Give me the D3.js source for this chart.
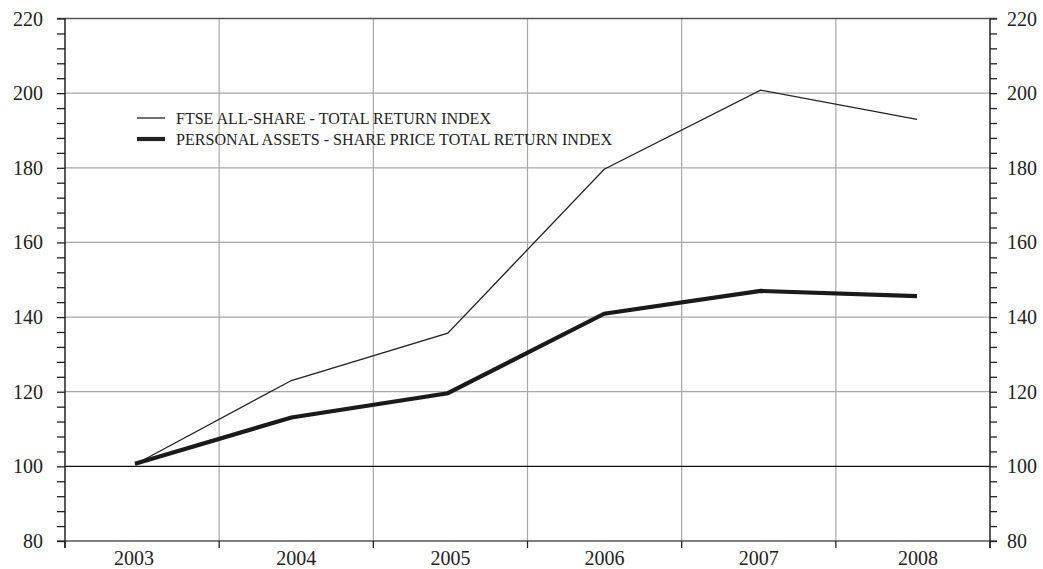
<!DOCTYPE html>
<html><head><meta charset="utf-8">
<script src="https://cdn.jsdelivr.net/npm/d3@7"></script>
<style>body{margin:0;background:#fff}svg{display:block}</style>
</head><body>
<svg id="c" width="1043" height="569"></svg>
<script>
const years = ["2003","2004","2005","2006","2007","2008"];
const ftse = [100.5, 123.0, 135.7, 179.6, 200.8, 193.0];
const pa = [100.7, 113.1, 119.6, 140.9, 147.0, 145.6];
const yTicks = [80,100,120,140,160,180,200,220];
const legendLabels = ["FTSE ALL-SHARE - TOTAL RETURN INDEX","PERSONAL ASSETS - SHARE PRICE TOTAL RETURN INDEX"];

const svg = d3.select("#c");
const L = 65, R = 990, T = 18.5, B = 541;
const y = d3.scaleLinear().domain([80,220]).range([B,T]);
const xb = d3.scaleBand().domain(years).range([L,R]);
const xp = d3.scalePoint().domain(years).range([135,917]);
const font = "'Liberation Serif','Times New Roman',serif";

// horizontal gridlines
svg.append("g").selectAll("line").data(yTicks.filter(v=>v!==100&&v!==80&&v!==220)).join("line")
  .attr("x1",L).attr("x2",R).attr("y1",d=>y(d)).attr("y2",d=>y(d))
  .attr("stroke","#a8a8a8").attr("stroke-width",1.2);
// vertical gridlines at band boundaries
svg.append("g").selectAll("line").data(years.slice(1)).join("line")
  .attr("x1",d=>xb(d)).attr("x2",d=>xb(d)).attr("y1",T).attr("y2",B)
  .attr("stroke","#a8a8a8").attr("stroke-width",1.2);
// top and bottom lines
svg.append("line").attr("x1",57).attr("x2",997).attr("y1",y(220)).attr("y2",y(220)).attr("stroke","#555").attr("stroke-width",1.5);
svg.append("line").attr("x1",57).attr("x2",997).attr("y1",y(80)).attr("y2",y(80)).attr("stroke","#555").attr("stroke-width",1.5);
// 100 baseline
svg.append("line").attr("x1",L).attr("x2",R).attr("y1",y(100)).attr("y2",y(100)).attr("stroke","#111").attr("stroke-width",1.2);

// left axis
const minor = d3.range(80,221,4);
const gl = svg.append("g").attr("transform",`translate(${L},0)`)
  .call(d3.axisLeft(y).tickValues(minor).tickSize(8).tickFormat(""));
gl.select(".domain").attr("d",`M0,${T}V${B+7}`).attr("stroke","#222").attr("stroke-width",1.5);
gl.selectAll(".tick line").attr("stroke","#222").attr("stroke-width",1.3);
const gr = svg.append("g").attr("transform",`translate(${R},0)`)
  .call(d3.axisRight(y).tickValues(minor).tickSize(7).tickFormat(""));
gr.select(".domain").attr("d",`M0,${T}V${B+7}`).attr("stroke","#222").attr("stroke-width",1.5);
gr.selectAll(".tick line").attr("stroke","#222").attr("stroke-width",1.3);

// y labels
svg.append("g").selectAll("text").data(yTicks).join("text")
  .attr("x",43).attr("y",d=>y(d)+7).attr("text-anchor","end")
  .attr("font-family",font).attr("font-size",20).attr("fill","#222").text(d=>d);
svg.append("g").selectAll("text").data(yTicks).join("text")
  .attr("x",1007).attr("y",d=>y(d)+7).attr("text-anchor","start")
  .attr("font-family",font).attr("font-size",20).attr("fill","#222").text(d=>d);

// x ticks (band boundaries)
const bounds = years.map(d=>xb(d)).concat([R]);
svg.append("g").selectAll("line").data(bounds).join("line")
  .attr("x1",d=>d).attr("x2",d=>d).attr("y1",B).attr("y2",B+7)
  .attr("stroke","#222").attr("stroke-width",1.3);
svg.append("g").selectAll("text").data(years).join("text")
  .attr("x",d=>xb(d)+xb.bandwidth()/2 - (d==="2003"?8:(d==="2008"?-5:0))).attr("y",565).attr("text-anchor","middle")
  .attr("font-family",font).attr("font-size",20).attr("fill","#222").text(d=>d);

// lines
const line = d3.line().x((d,i)=>xp(years[i])).y(d=>y(d));
svg.append("path").datum(ftse).attr("d",line).attr("fill","none").attr("stroke","#222").attr("stroke-width",1.3);
svg.append("path").datum(pa).attr("d",line).attr("fill","none").attr("stroke","#1a1a1a").attr("stroke-width",4.2);

// legend
const lg = svg.append("g");
const lw = [1.3,4.2];
const ly = [118,139];
const ltl = [315,436];
legendLabels.forEach((t,i)=>{
  lg.append("line").attr("x1",137).attr("x2",165).attr("y1",ly[i]).attr("y2",ly[i]).attr("stroke","#222").attr("stroke-width",lw[i]);
  lg.append("text").attr("x",176).attr("y",ly[i]+6).attr("font-family",font).attr("font-size",16)
    .attr("fill","#222").attr("textLength",ltl[i]).attr("lengthAdjust","spacingAndGlyphs").text(t);
});
</script>
</body></html>
